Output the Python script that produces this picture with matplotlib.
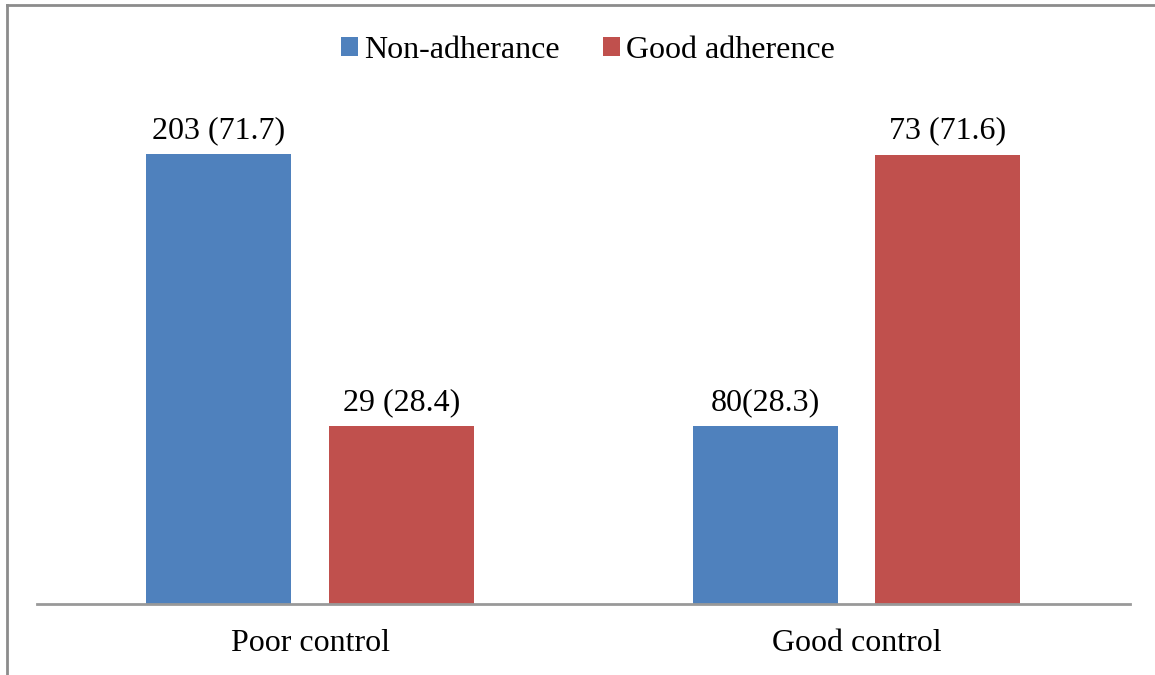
import matplotlib.pyplot as plt
import numpy as np
from matplotlib.lines import Line2D

plt.rcParams['font.family'] = ['Liberation Serif', 'DejaVu Serif']

# adherence vs glycaemic control
categories = ['Poor control', 'Good control']
series_names = ['Non-adherance', 'Good adherence']
counts = [[203, 80], [29, 73]]
percents = [[71.7, 28.3], [28.4, 71.6]]
label_fmt = [['{} ({})', '{}({})'], ['{} ({})', '{} ({})']]
colors = ['#4f81bd', '#c0504d']
fs = 23

fig = plt.figure(figsize=(11.55, 6.75), dpi=100)
ax = fig.add_axes([0.032, 0.1052, 0.946, 0.7437])

x = np.arange(len(categories))
width = 0.265
offsets = [-0.167, 0.167]

for i, name in enumerate(series_names):
    bars = ax.bar(x + offsets[i], percents[i], width, color=colors[i], label=name)
    for j, b in enumerate(bars):
        txt = label_fmt[i][j].format(counts[i][j], percents[i][j])
        ax.annotate(txt, (b.get_x() + b.get_width() / 2, b.get_height()),
                    xytext=(0, 6.5), textcoords='offset points',
                    ha='center', va='bottom', fontsize=fs)

ax.set_xlim(-0.5, 1.5)
ax.set_ylim(0, 80)
ax.set_xticks(x)
ax.set_xticklabels(categories, fontsize=fs)
ax.tick_params(axis='x', length=0, pad=18)
ax.set_yticks([])
for s in ['top', 'right', 'left']:
    ax.spines[s].set_visible(False)
ax.spines['bottom'].set_color('#999999')
ax.spines['bottom'].set_linewidth(2)

ax.legend(loc='center', bbox_to_anchor=(0.509, 0.9255), bbox_transform=fig.transFigure,
          ncol=2, frameon=False, fontsize=fs, handlelength=0.53, handleheight=0.53,
          handletextpad=0.2, columnspacing=1.35)

# outer frame on the left and top edges
fig.add_artist(Line2D([0.0061, 0.0061], [0, 0.992], transform=fig.transFigure,
                      color='#8c8c8c', lw=2))
fig.add_artist(Line2D([0.0061, 1], [0.992, 0.992], transform=fig.transFigure,
                      color='#8c8c8c', lw=2))

fig.savefig('out.png', dpi=100)
